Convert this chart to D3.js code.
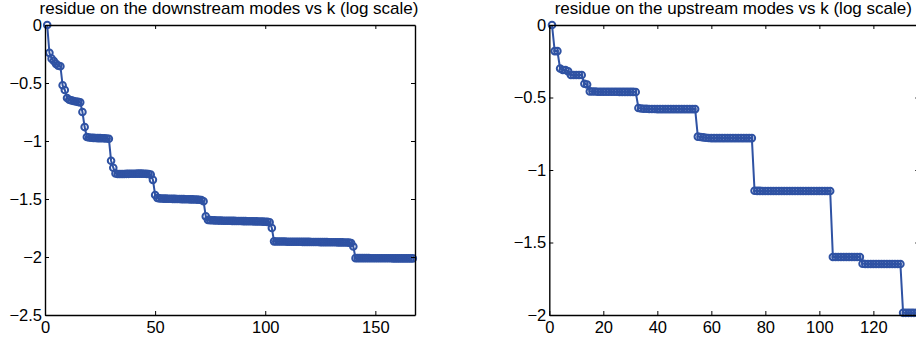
<!DOCTYPE html>
<html>
<head>
<meta charset="utf-8">
<script src="https://cdn.jsdelivr.net/npm/d3@7"></script>
<style>
  html, body { margin: 0; padding: 0; background: #fff; }
  svg { display: block; }
  text { font-family: "Liberation Sans", Arial, Helvetica, sans-serif; fill: #000; }
</style>
</head>
<body>
<svg id="chart" width="916" height="345"></svg>
<script>
// ---------------- DATA ----------------
const leftTitle = "residue on the downstream modes vs k (log scale)";
const rightTitle = "residue on the upstream modes vs k (log scale)";

// downstream residue, k = 1..167
const downstreamValues = [
  0.000, -0.240, -0.290, -0.310, -0.335, -0.350, -0.355, -0.520, -0.560, -0.630,
  -0.645, -0.650, -0.655, -0.660, -0.663, -0.667, -0.750, -0.880, -0.965, -0.970,
  -0.972, -0.973, -0.974, -0.975, -0.975, -0.976, -0.977, -0.978, -0.980, -1.170,
  -1.230, -1.280, -1.285, -1.285, -1.284, -1.284, -1.283, -1.283, -1.282, -1.282,
  -1.282, -1.281, -1.281, -1.281, -1.282, -1.283, -1.285, -1.290, -1.335, -1.465,
  -1.490, -1.495, -1.496, -1.497, -1.497, -1.498, -1.498, -1.499, -1.499, -1.500,
  -1.500, -1.501, -1.501, -1.502, -1.502, -1.503, -1.503, -1.504, -1.505, -1.506,
  -1.508, -1.520, -1.650, -1.680, -1.682, -1.683, -1.684, -1.685, -1.686, -1.686,
  -1.687, -1.687, -1.688, -1.688, -1.689, -1.689, -1.690, -1.690, -1.690, -1.691,
  -1.691, -1.692, -1.692, -1.692, -1.693, -1.693, -1.694, -1.694, -1.695, -1.696,
  -1.697, -1.700, -1.750, -1.865, -1.866, -1.866, -1.867, -1.867, -1.867, -1.868,
  -1.868, -1.868, -1.869, -1.869, -1.869, -1.869, -1.870, -1.870, -1.870, -1.870,
  -1.871, -1.871, -1.871, -1.871, -1.872, -1.872, -1.872, -1.872, -1.873, -1.873,
  -1.873, -1.873, -1.874, -1.874, -1.874, -1.875, -1.875, -1.876, -1.880, -1.910,
  -2.010, -2.010, -2.010, -2.010, -2.010, -2.010, -2.010, -2.011, -2.011, -2.011,
  -2.011, -2.011, -2.011, -2.011, -2.011, -2.011, -2.011, -2.012, -2.012, -2.012,
  -2.012, -2.012, -2.012, -2.012, -2.012, -2.012, -2.012
];

// upstream residue, k = 1..137
const upstreamValues = [
  0.000, -0.180, -0.180, -0.300, -0.310, -0.310, -0.320, -0.345, -0.345, -0.345,
  -0.345, -0.345, -0.405, -0.410, -0.458, -0.459, -0.459, -0.460, -0.460, -0.460,
  -0.460, -0.460, -0.460, -0.460, -0.460, -0.461, -0.461, -0.461, -0.461, -0.461,
  -0.461, -0.462, -0.572, -0.576, -0.578, -0.578, -0.579, -0.579, -0.579, -0.580,
  -0.580, -0.580, -0.580, -0.580, -0.580, -0.580, -0.580, -0.580, -0.580, -0.580,
  -0.580, -0.580, -0.580, -0.580, -0.770, -0.772, -0.775, -0.778, -0.779, -0.780,
  -0.780, -0.780, -0.780, -0.780, -0.780, -0.780, -0.780, -0.780, -0.780, -0.780,
  -0.780, -0.780, -0.780, -0.780, -0.780, -1.143, -1.144, -1.144, -1.145, -1.145,
  -1.145, -1.145, -1.145, -1.145, -1.145, -1.145, -1.145, -1.145, -1.145, -1.145,
  -1.145, -1.145, -1.145, -1.145, -1.145, -1.145, -1.145, -1.145, -1.145, -1.145,
  -1.145, -1.145, -1.145, -1.145, -1.600, -1.600, -1.600, -1.600, -1.600, -1.600,
  -1.600, -1.600, -1.600, -1.600, -1.600, -1.646, -1.648, -1.648, -1.648, -1.648,
  -1.648, -1.648, -1.648, -1.648, -1.648, -1.648, -1.648, -1.648, -1.648, -1.648,
  -1.985, -1.985, -1.985, -1.985, -1.985, -1.985, -1.985
];

const leftXTicks = [0, 50, 100, 150];
const leftXTickLabels = ["0", "50", "100", "150"];
const leftYTicks = [0, -0.5, -1, -1.5, -2, -2.5];
const leftYTickLabels = ["0", "\u22120.5", "\u22121", "\u22121.5", "\u22122", "\u22122.5"];

const rightXTicks = [0, 20, 40, 60, 80, 100, 120];
const rightXTickLabels = ["0", "20", "40", "60", "80", "100", "120"];
const rightYTicks = [0, -0.5, -1, -1.5, -2];
const rightYTickLabels = ["0", "\u22120.5", "\u22121", "\u22121.5", "\u22122"];

// ---------------- DRAW ----------------
const color = "#2f52a3";
const svg = d3.select("#chart");

function panel(opt) {
  const W = 370, H = 290;
  const g = svg.append("g").attr("transform", `translate(${opt.left},${opt.top})`);
  const x = d3.scaleLinear().domain(opt.xDomain).range([0, W]);
  const y = d3.scaleLinear().domain(opt.yDomain).range([H, 0]);
  const pts = opt.values.map((v, i) => [i + 1, v]);

  g.append("path")
    .datum(pts)
    .attr("fill", "none")
    .attr("stroke", color)
    .attr("stroke-width", 2)
    .attr("d", d3.line().x(d => x(d[0])).y(d => y(d[1])));

  g.selectAll("circle.m").data(pts).join("circle")
    .attr("class", "m")
    .attr("cx", d => x(d[0]))
    .attr("cy", d => y(d[1]))
    .attr("r", 3.3)
    .attr("fill", "none")
    .attr("stroke", color)
    .attr("stroke-width", 2);

  const fontSize = "16.5px";
  const xb = g.append("g").attr("transform", `translate(0,${H})`)
    .call(d3.axisBottom(x).tickValues(opt.xTicks)
      .tickFormat((d, i) => opt.xLabels[i]).tickSizeInner(-4).tickSizeOuter(0).tickPadding(6));
  const xt = g.append("g")
    .call(d3.axisTop(x).tickValues(opt.xTicks).tickFormat("").tickSizeInner(-4).tickSizeOuter(0));
  const yl = g.append("g")
    .call(d3.axisLeft(y).tickValues(opt.yTicks)
      .tickFormat((d, i) => opt.yLabels[i]).tickSizeInner(-4).tickSizeOuter(0).tickPadding(3));
  const yr = g.append("g").attr("transform", `translate(${W},0)`)
    .call(d3.axisRight(y).tickValues(opt.yTicks).tickFormat("").tickSizeInner(-4).tickSizeOuter(0));

  [xb, xt, yl, yr].forEach(a => {
    a.select(".domain").attr("stroke", "#000").attr("stroke-width", 1.4);
    a.selectAll(".tick line").attr("stroke", "#000").attr("stroke-width", 1);
    a.selectAll(".tick text").attr("font-size", fontSize)
      .attr("font-family", "'Liberation Sans', Arial, sans-serif").attr("fill", "#000");
  });

  g.append("text")
    .attr("x", W / 2 - 1)
    .attr("y", -11)
    .attr("text-anchor", "middle")
    .attr("font-size", "17px")
    .text(opt.title);
}

panel({
  left: 45, top: 25,
  xDomain: [0, 168], yDomain: [-2.5, 0],
  values: downstreamValues,
  xTicks: leftXTicks, xLabels: leftXTickLabels,
  yTicks: leftYTicks, yLabels: leftYTickLabels,
  title: leftTitle
});

panel({
  left: 549.3, top: 25,
  xDomain: [0, 137], yDomain: [-2, 0],
  values: upstreamValues,
  xTicks: rightXTicks, xLabels: rightXTickLabels,
  yTicks: rightYTicks, yLabels: rightYTickLabels,
  title: rightTitle
});
</script>
</body>
</html>
